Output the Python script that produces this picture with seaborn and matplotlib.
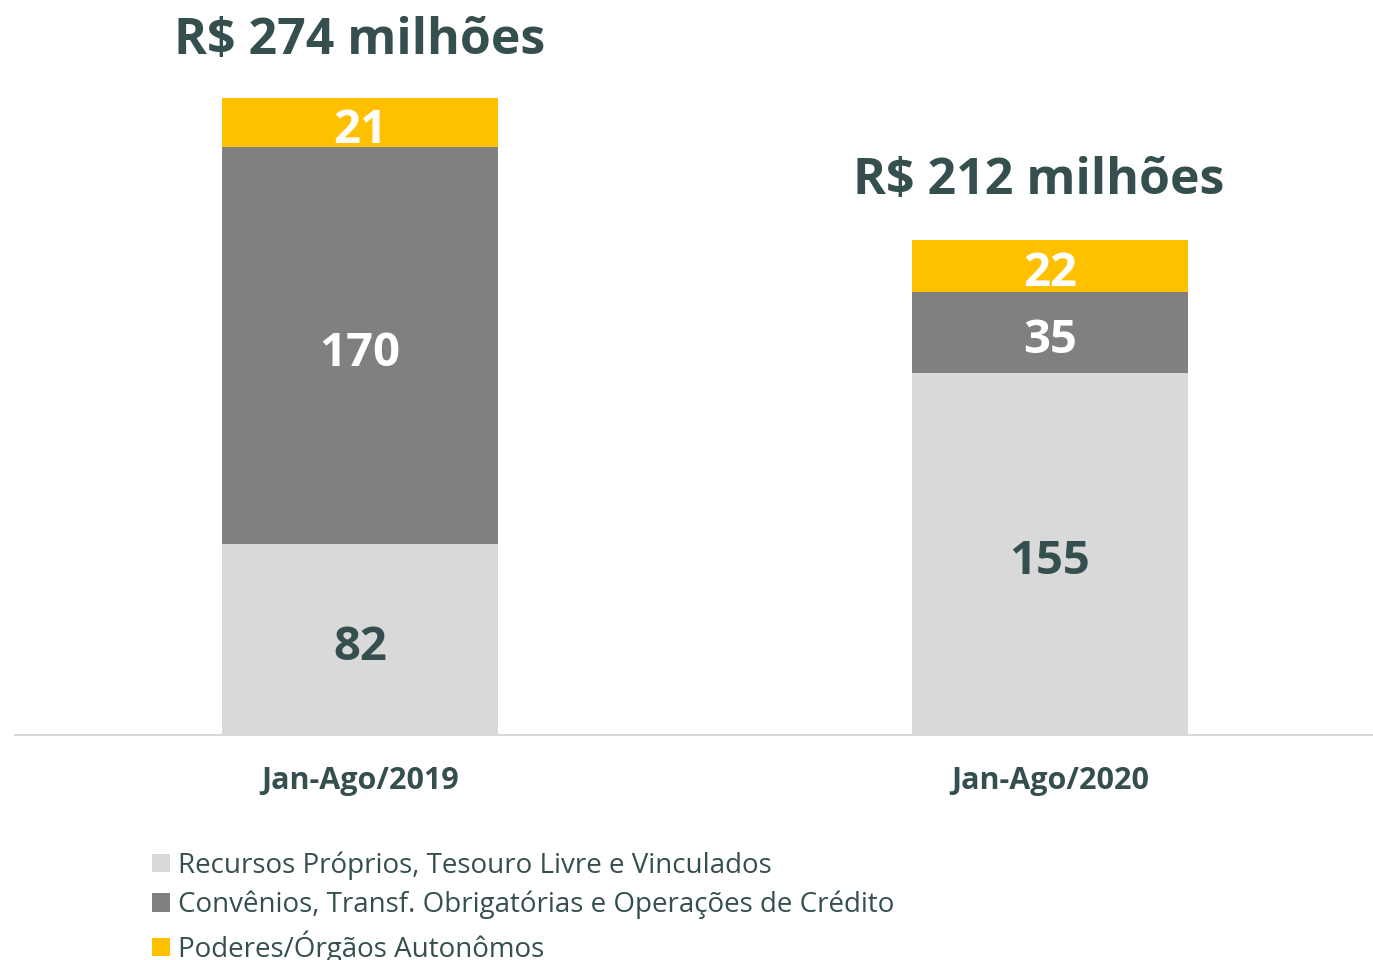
import pandas as pd
import matplotlib.pyplot as plt
import seaborn as sns
from matplotlib.patches import Patch

periods = ["Jan-Ago/2019", "Jan-Ago/2020"]
recursos = [82, 155]
convenios = [170, 35]
poderes = [21, 22]
totals_text = ["R$ 274 milhões", "R$ 212 milhões"]
series_names = [
    "Recursos Próprios, Tesouro Livre e Vinculados",
    "Convênios, Transf. Obrigatórias e Operações de Crédito",
    "Poderes/Órgãos Autonômos",
]

TXT = "#354F4F"
C_LIGHT = "#D9D9D9"
C_GREY = "#808080"
C_YELLOW = "#FFC000"

df = pd.DataFrame({"period": periods, "rec": recursos, "conv": convenios, "pod": poderes})
df["mid"] = df["rec"] + df["conv"]
df["top"] = df["mid"] + df["pod"]

sns.set_theme(style="white")
plt.rcParams["font.family"] = ["Open Sans", "DejaVu Sans"]

fig = plt.figure(figsize=(13.73, 9.6), dpi=100)
ax = fig.add_axes([15 / 1373, 225 / 960, 1358 / 1373, 700 / 960])

# stacked by layering cumulative heights
sns.barplot(data=df, x="period", y="top", color=C_YELLOW, width=0.4, saturation=1, linewidth=0, ax=ax)
sns.barplot(data=df, x="period", y="mid", color=C_GREY, width=0.4, saturation=1, linewidth=0, ax=ax)
sns.barplot(data=df, x="period", y="rec", color=C_LIGHT, width=0.4, saturation=1, linewidth=0, ax=ax)

ax.set_xlim(-0.5, 1.468)
ax.set_ylim(0, 300)

lab_kw = dict(ha="center", va="center_baseline", fontsize=34, fontweight="bold")
for i, row in df.iterrows():
    ax.text(i, row["rec"] / 2 - 1, f"{row['rec']}", color=TXT, **lab_kw)
    ax.text(i, row["rec"] + row["conv"] / 2 - 1, f"{row['conv']}", color="white", **lab_kw)
    ax.text(i, row["mid"] + row["pod"] / 2 - 1, f"{row['pod']}", color="white", **lab_kw)

ax.text(0, 300, totals_text[0], ha="center", va="center_baseline", fontsize=36,
        fontweight="bold", color=TXT, clip_on=False)
ax.text(0.983, 240, totals_text[1], ha="center", va="center_baseline", fontsize=36,
        fontweight="bold", color=TXT, clip_on=False)

ax.set_xlabel("")
ax.set_ylabel("")
ax.set_yticks([])
ax.tick_params(axis="x", length=0, pad=22)
for lab in ax.get_xticklabels():
    lab.set_fontsize(22)
    lab.set_fontweight("bold")
    lab.set_color(TXT)

for s in ["left", "right", "top"]:
    ax.spines[s].set_visible(False)
ax.spines["bottom"].set_color(C_LIGHT)
ax.spines["bottom"].set_linewidth(1.5)

handles = [Patch(facecolor=c, edgecolor="none", label=n)
           for c, n in zip([C_LIGHT, C_GREY, C_YELLOW], series_names)]
leg = fig.legend(handles=handles, loc="upper left", bbox_to_anchor=(141 / 1373, 1 - 840 / 960),
                 frameon=False, fontsize=20, handlelength=0.65, handleheight=0.65,
                 handletextpad=0.3, labelspacing=0.4, borderaxespad=0)
for t in leg.get_texts():
    t.set_color(TXT)

fig.savefig("out.png", dpi=100)
